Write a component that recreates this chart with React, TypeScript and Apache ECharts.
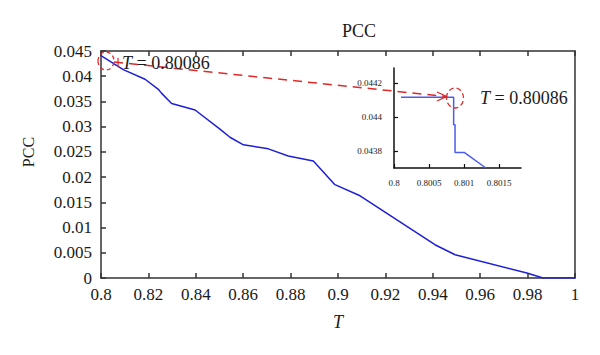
import React, { useEffect, useRef } from "react";
import * as echarts from "echarts";

const mainT = [0.8, 0.8094, 0.8186, 0.8242, 0.8256, 0.8298, 0.8397, 0.8502, 0.8544, 0.8601, 0.8706, 0.879, 0.8896, 0.8987, 0.9093, 0.9409, 0.9494, 0.9797, 0.9865, 1];
const mainPCC = [0.0441, 0.0413, 0.0394, 0.0374, 0.0366, 0.0346, 0.0333, 0.0295, 0.0279, 0.0264, 0.0256, 0.0242, 0.0232, 0.0185, 0.0163, 0.0066, 0.0046, 0.001, 0, 0];

const insetT = [0.8001, 0.80085, 0.80085, 0.80087, 0.80087, 0.801, 0.80131];
const insetPCC = [0.044118, 0.044118, 0.043955, 0.043955, 0.043792, 0.043792, 0.0437];

const insetXTicks = [0.8, 0.8005, 0.801, 0.8015];
const insetYTicks = [0.0438, 0.044, 0.0442];

const FONT = "'Liberation Serif', 'DejaVu Serif', serif";
const AXIS = "#333333";
const TEXT = "#1a1a1a";
const RED = "#e02828";

export default function App() {
  const ref = useRef<HTMLDivElement>(null);
  useEffect(() => {
    if (!ref.current) return;
    const chart = echarts.init(ref.current, undefined, { renderer: "svg" });
    const axisLine = { show: true, onZero: false, lineStyle: { color: AXIS, width: 1.5 } };
    const option: any = {
      animation: false,
      backgroundColor: "#ffffff",
      title: {
        text: "PCC",
        left: 337,
        top: 17,
        textStyle: { fontFamily: FONT, fontSize: 18, fontWeight: "normal", color: TEXT },
      },
      grid: [
        { left: 101, right: 25, top: 51, bottom: 77, outerBoundsMode: "none" },
        { left: 394, top: 68, width: 127, height: 100, outerBoundsMode: "none" },
      ],
      xAxis: [
        {
          type: "value", gridIndex: 0, min: 0.8, max: 1, interval: 0.02,
          name: "T", nameLocation: "middle", nameGap: 35,
          nameTextStyle: { fontFamily: FONT, fontSize: 18, fontStyle: "italic", color: TEXT },
          axisLine, splitLine: { show: false },
          axisTick: { show: true, inside: true, length: 5, lineStyle: { color: AXIS, width: 1.5 } },
          axisLabel: { margin: 8, fontFamily: FONT, fontSize: 17, color: TEXT,
            formatter: (v: number) => String(Math.round(v * 100) / 100) },
        },
        {
          type: "value", gridIndex: 0, position: "top", min: 0.8, max: 1, interval: 0.02,
          axisLine, splitLine: { show: false },
          axisTick: { show: true, inside: true, length: 5, lineStyle: { color: AXIS, width: 1.5 } },
          axisLabel: { show: false },
        },
        {
          type: "value", gridIndex: 1, min: 0.8, max: 0.80181,
          axisLine: { show: true, onZero: false, lineStyle: { color: "#111", width: 1.5 } },
          splitLine: { show: false },
          axisTick: { show: true, inside: true, length: 4, customValues: insetXTicks, lineStyle: { color: "#111", width: 1.2 } },
          axisLabel: { margin: 10, fontFamily: FONT, fontSize: 9, color: TEXT, customValues: insetXTicks,
            formatter: (v: number) => String(+v.toFixed(4)) },
        },
      ],
      yAxis: [
        {
          type: "value", gridIndex: 0, min: 0, max: 0.045, interval: 0.005,
          axisLine, splitLine: { show: false },
          axisTick: { show: true, inside: true, length: 5, lineStyle: { color: AXIS, width: 1.5 } },
          axisLabel: { margin: 9, fontFamily: FONT, fontSize: 17, color: TEXT,
            formatter: (v: number) => String(Math.round(v * 1000) / 1000) },
        },
        {
          type: "value", gridIndex: 0, position: "right", min: 0, max: 0.045, interval: 0.005,
          axisLine, splitLine: { show: false }, axisTick: { show: false }, axisLabel: { show: false },
        },
        {
          type: "value", gridIndex: 1, min: 0.0437, max: 0.04429,
          axisLine: { show: true, onZero: false, lineStyle: { color: "#111", width: 1.5 } },
          splitLine: { show: false },
          axisTick: { show: true, inside: true, length: 4, customValues: insetYTicks, lineStyle: { color: "#111", width: 1.2 } },
          axisLabel: { margin: 12, fontFamily: FONT, fontSize: 9, color: TEXT, customValues: insetYTicks,
            formatter: (v: number) => String(+v.toFixed(4)) },
        },
      ],
      series: [
        {
          type: "line", xAxisIndex: 0, yAxisIndex: 0, showSymbol: false,
          data: mainT.map((t, i) => [t, mainPCC[i]]),
          lineStyle: { color: "#1f1fd8", width: 1.5 },
        },
        {
          type: "line", xAxisIndex: 2, yAxisIndex: 2, showSymbol: false,
          data: insetT.map((t, i) => [t, insetPCC[i]]),
          lineStyle: { color: "#4c5cf0", width: 1.5 },
        },
      ],
      graphic: [
        {
          type: "text", x: 28, y: 152, rotation: Math.PI / 2,
          style: { text: "PCC", fontFamily: FONT, fontSize: 16, fill: TEXT, align: "center", verticalAlign: "middle" },
        },
        {
          type: "ellipse", shape: { cx: 106, cy: 61, rx: 8, ry: 9 },
          style: { fill: "none", stroke: RED, lineWidth: 1.3, lineDash: [4, 3] }, z: 10,
        },
        {
          type: "line", shape: { x1: 114, y1: 62, x2: 446, y2: 96.5 },
          style: { stroke: RED, lineWidth: 1.5, lineDash: [9, 6] }, z: 10,
        },
        {
          type: "line", shape: { x1: 118, y1: 58, x2: 118, y2: 67 },
          style: { stroke: RED, lineWidth: 1.2 }, z: 10,
        },
        {
          type: "polyline", shape: { points: [[437, 92], [446.5, 96.5], [437, 101]] },
          style: { stroke: RED, lineWidth: 1.3, fill: "none" }, z: 10,
        },
        {
          type: "ellipse", shape: { cx: 455, cy: 98, rx: 8.5, ry: 10 },
          style: { fill: "none", stroke: RED, lineWidth: 1.3, lineDash: [5, 3] }, z: 10,
        },
        {
          type: "text", x: 122, y: 63,
          style: {
            text: "{i|T} = 0.80086", fontFamily: FONT, fontSize: 18, fill: TEXT, verticalAlign: "middle",
            rich: { i: { fontFamily: FONT, fontSize: 18, fontStyle: "italic", fill: TEXT } },
          }, z: 11,
        },
        {
          type: "text", x: 480, y: 98,
          style: {
            text: "{i|T} = 0.80086", fontFamily: FONT, fontSize: 18, fill: TEXT, verticalAlign: "middle",
            rich: { i: { fontFamily: FONT, fontSize: 18, fontStyle: "italic", fill: TEXT } },
          }, z: 11,
        },
      ],
    };
    chart.setOption(option);
    return () => chart.dispose();
  }, []);
  return (
    <div
      ref={ref}
      style={{ position: "fixed", left: 0, top: 0, width: 600, height: 355, background: "#fff" }}
    />
  );
}
